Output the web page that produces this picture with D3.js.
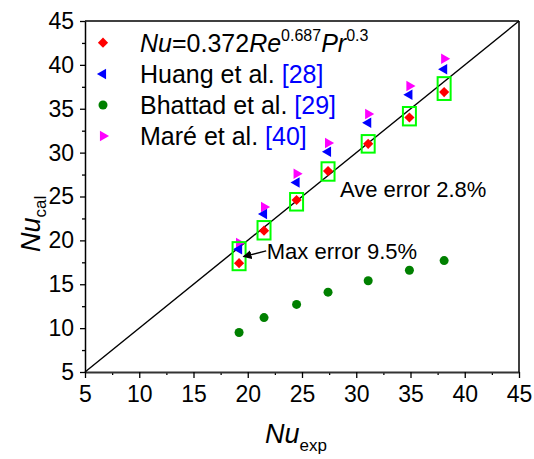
<!DOCTYPE html>
<html><head><meta charset="utf-8">
<script src="https://cdn.jsdelivr.net/npm/d3@7"></script>
<style>body{margin:0;background:#fff} svg text{font-family:Arial,"Liberation Sans",sans-serif}</style>
</head><body><svg id="c" width="534" height="459"></svg>
<script>
// ---- data ----
const nuExp     = [19.2, 21.5, 24.5, 27.4, 31.1, 34.9, 38.1];
const nuCorr    = [17.4, 21.1, 24.6, 27.9, 31.0, 34.0, 36.9];
const nuHuang   = [19.0, 23.0, 26.6, 30.1, 33.4, 36.6, 39.5];
const nuBhattad = [9.5, 11.2, 12.7, 14.1, 15.4, 16.6, 17.7];
const nuMare    = [19.7, 23.8, 27.6, 31.1, 34.4, 37.6, 40.7];
const boxLow    = [16.6, 20.1, 23.4, 26.8, 30.0, 33.1, 36.0];
const boxHigh   = [19.8, 22.2, 25.4, 28.9, 32.0, 35.2, 38.6];
const xTicks = [5, 10, 15, 20, 25, 30, 35, 40, 45];
const yTicks = [5, 10, 15, 20, 25, 30, 35, 40, 45];
const minorTicks = [7.5, 12.5, 17.5, 22.5, 27.5, 32.5, 37.5, 42.5];
const diagLine = [5, 45];
const legendRefs = ["[28]", "[29]", "[40]"];
const legendNames = ["Huang et al. ", "Bhattad et al. ", "Maré et al. "];
const maxErrText = "Max error 9.5%";
const aveErrText = "Ave error 2.8%";
const maxErrArrow = [[21.7, 18.8], [19.6, 18.15]];
const maxErrPos = [21.75, 17.9];
const aveErrPos = [28.5, 24.95];

// ---- layout ----
const svg = d3.select("#c");
const L = 85, R = 519, T = 21, B = 372;
const x = d3.scaleLinear().domain([5, 45]).range([L, R]);
const y = d3.scaleLinear().domain([5, 45]).range([B, T]);
const FF = "Arial, 'Liberation Sans', sans-serif";

svg.append("defs").append("marker").attr("id", "ah")
  .attr("viewBox", "0 0 10 10").attr("refX", 9).attr("refY", 5)
  .attr("markerWidth", 9).attr("markerHeight", 9).attr("markerUnits", "userSpaceOnUse")
  .attr("orient", "auto")
  .append("path").attr("d", "M0,0 L10,5 L0,10 z").attr("fill", "#000");

// axes: minor ticks
svg.append("g").attr("transform", `translate(0,${B})`)
  .call(d3.axisBottom(x).tickValues(minorTicks).tickSize(3).tickFormat("").tickSizeOuter(0))
  .call(g => g.select(".domain").remove())
  .selectAll("line").attr("stroke", "#000").attr("stroke-width", 1.3);
svg.append("g").attr("transform", `translate(${L},0)`)
  .call(d3.axisLeft(y).tickValues(minorTicks).tickSize(3).tickFormat("").tickSizeOuter(0))
  .call(g => g.select(".domain").remove())
  .selectAll("line").attr("stroke", "#000").attr("stroke-width", 1.3);

// major
const gx = svg.append("g").attr("transform", `translate(0,${B})`)
  .call(d3.axisBottom(x).tickValues(xTicks).tickSize(6).tickPadding(8).tickSizeOuter(0));
gx.select(".domain").attr("stroke", "#333").attr("stroke-width", 1.8);
gx.selectAll(".tick line").attr("stroke", "#000").attr("stroke-width", 1.3);
gx.selectAll("text").attr("font-size", 23).attr("font-family", FF).attr("fill", "#000");

const gy = svg.append("g").attr("transform", `translate(${L},0)`)
  .call(d3.axisLeft(y).tickValues(yTicks).tickSize(5).tickPadding(6).tickSizeOuter(0));
gy.select(".domain").attr("stroke", "#000").attr("stroke-width", 1.5);
gy.selectAll(".tick line").attr("stroke", "#000").attr("stroke-width", 1.3);
gy.selectAll("text").attr("font-size", 23).attr("font-family", FF).attr("fill", "#000");

// frame top & right
svg.append("line").attr("x1", L).attr("x2", R).attr("y1", T).attr("y2", T).attr("stroke", "#000").attr("stroke-width", 1.5);
svg.append("line").attr("x1", R).attr("x2", R).attr("y1", T).attr("y2", B).attr("stroke", "#000").attr("stroke-width", 1.5);

// diagonal
svg.append("line").attr("x1", x(diagLine[0])).attr("y1", y(diagLine[0]))
  .attr("x2", x(diagLine[1])).attr("y2", y(diagLine[1]))
  .attr("stroke", "#000").attr("stroke-width", 1.4);

// markers
const diamond = d3.symbol().type(d3.symbolSquare).size(52);
const tri = d3.symbol().type(d3.symbolTriangle).size(48);

svg.append("g").selectAll("path").data(nuExp).join("path")
  .attr("d", tri).attr("fill", "#ff00ff")
  .attr("transform", (d, i) => `translate(${x(d)},${y(nuMare[i])}) rotate(90)`);
svg.append("g").selectAll("path").data(nuExp).join("path")
  .attr("d", tri).attr("fill", "#0000ff")
  .attr("transform", (d, i) => `translate(${x(d)},${y(nuHuang[i])}) rotate(-90)`);
svg.append("g").selectAll("circle").data(nuExp).join("circle")
  .attr("cx", d => x(d)).attr("cy", (d, i) => y(nuBhattad[i])).attr("r", 4.5).attr("fill", "#008000");
svg.append("g").selectAll("path").data(nuExp).join("path")
  .attr("d", diamond).attr("fill", "#ff0000")
  .attr("transform", (d, i) => `translate(${x(d)},${y(nuCorr[i])}) rotate(45)`);

// error boxes
svg.append("g").selectAll("rect").data(nuExp).join("rect")
  .attr("x", d => x(d) - 6.5).attr("width", 13)
  .attr("y", (d, i) => y(boxHigh[i])).attr("height", (d, i) => y(boxLow[i]) - y(boxHigh[i]))
  .attr("fill", "none").attr("stroke", "#00ff00").attr("stroke-width", 2);

// annotations
svg.append("line")
  .attr("x1", x(maxErrArrow[0][0])).attr("y1", y(maxErrArrow[0][1]))
  .attr("x2", x(maxErrArrow[1][0])).attr("y2", y(maxErrArrow[1][1]))
  .attr("stroke", "#000").attr("stroke-width", 1.4).attr("marker-end", "url(#ah)");
svg.append("text").attr("x", x(maxErrPos[0])).attr("y", y(maxErrPos[1]))
  .attr("font-size", 22).attr("fill", "#000").text(maxErrText);
svg.append("text").attr("x", x(aveErrPos[0])).attr("y", y(aveErrPos[1]))
  .attr("font-size", 22).attr("fill", "#000").text(aveErrText);

// legend
const lgX = 103, lgTX = 140, rows = [42.7, 74, 105, 136];
svg.append("path").attr("d", diamond).attr("fill", "#ff0000").attr("transform", `translate(${lgX},${rows[0]}) rotate(45)`);
svg.append("path").attr("d", tri).attr("fill", "#0000ff").attr("transform", `translate(${lgX},${rows[1]}) rotate(-90)`);
svg.append("circle").attr("cx", lgX).attr("cy", rows[2]).attr("r", 4.5).attr("fill", "#008000");
svg.append("path").attr("d", tri).attr("fill", "#ff00ff").attr("transform", `translate(${lgX},${rows[3]}) rotate(90)`);

const t0 = svg.append("text").attr("x", lgTX).attr("y", rows[0] + 9).attr("font-size", 25).attr("fill", "#000");
t0.append("tspan").attr("font-style", "italic").text("Nu");
t0.append("tspan").text("=0.372");
t0.append("tspan").attr("font-style", "italic").text("Re");
t0.append("tspan").attr("font-size", 16).attr("dy", -11).text("0.687");
t0.append("tspan").attr("font-style", "italic").attr("dy", 11).text("Pr");
t0.append("tspan").attr("font-size", 16).attr("dy", -11).text("0.3");

legendNames.forEach((n, i) => {
  const t = svg.append("text").attr("x", lgTX).attr("y", rows[i + 1] + 9).attr("font-size", 25).attr("fill", "#000");
  t.append("tspan").text(n);
  t.append("tspan").attr("fill", "#0000ff").text(legendRefs[i]);
});

// axis titles
const xt = svg.append("text").attr("x", 265).attr("y", 443).attr("font-size", 27).attr("fill", "#000");
xt.append("tspan").attr("font-style", "italic").text("Nu");
xt.append("tspan").attr("font-size", 17).attr("dy", 8).text("exp");

const yt = svg.append("text").attr("transform", "translate(40,252) rotate(-90)").attr("font-size", 27).attr("fill", "#000");
yt.append("tspan").attr("font-style", "italic").text("Nu");
yt.append("tspan").attr("font-size", 17).attr("dy", 6).text("cal");
</script></body></html>
